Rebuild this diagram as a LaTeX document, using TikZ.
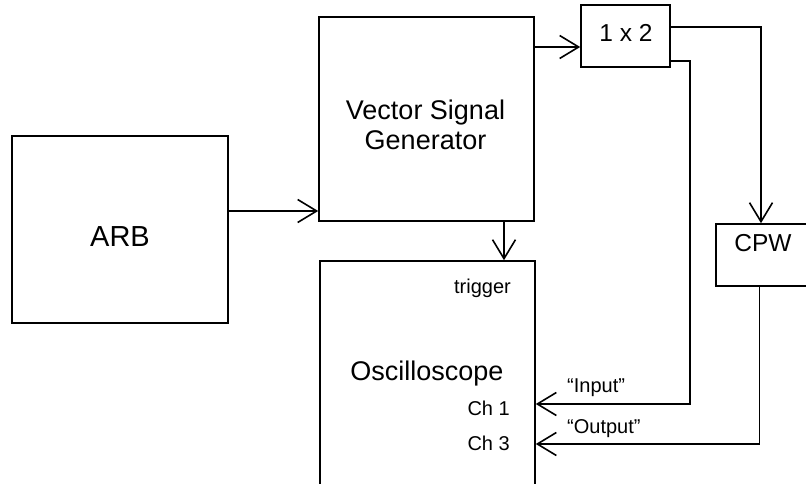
\documentclass[tikz,border=0pt]{standalone}
\usepackage{fontspec}
\setmainfont{Liberation Sans}
\usetikzlibrary{arrows.meta}
\begin{document}
\begin{tikzpicture}[x=1pt,y=-1pt,
  box/.style={draw=black,line width=1.6pt,inner sep=0pt,fill=none},
  txt/.style={inner sep=0pt,anchor=base},
  big/.style={font=\fontsize{27}{30}\selectfont},
  mid/.style={font=\fontsize{24.5}{28}\selectfont},
  small/.style={font=\fontsize{20}{23}\selectfont},
  arr/.style={line width=1.6pt,-{Straight Barb[length=19pt,width=23pt]}}]
\useasboundingbox (0,0) rectangle (806,484);
% boxes
\node[box,minimum width=216pt,minimum height=187pt] (arb) at (120,229.5) {};
\node[box,minimum width=215pt,minimum height=204pt] (vsg) at (426.5,119) {};
\node[box,minimum width=215pt,minimum height=232pt] (osc) at (427.5,377) {};
\node[box,minimum width=89pt,minimum height=62pt] (spl) at (625.5,36) {};
\node[box,minimum width=94pt,minimum height=62pt] (cpw) at (763,255) {};
% texts
\node[txt,font=\fontsize{29}{32}\selectfont] (tarb) at (120,246.5) {ARB};
\node[txt,big] (tvsg1) at (425.5,120) {Vector Signal};
\node[txt,big] (tvsg2) at (425.5,149.3) {Generator};
\node[txt,big] (tosc) at (427,380) {Oscilloscope};
\node[txt,mid] (tspl) at (626,41.7) {1 x 2};
\node[txt,mid] (tcpw) at (763,251) {CPW};
\node[txt,small,anchor=base east] (ttrig) at (511,293) {trigger};
\node[txt,small,anchor=base east] (tch1) at (510,415) {Ch 1};
\node[txt,small,anchor=base east] (tch3) at (510,450) {Ch 3};
\node[txt,small,anchor=base west] (tin) at (567,392.5) {“Input”};
\node[txt,small,anchor=base west] (tout) at (567,433.5) {“Output”};
% connector points
\coordinate (a1) at ([yshift=18.5pt]arb.east);
\coordinate (s1) at ([yshift=-11pt]spl.west);
\coordinate (s2) at ([yshift=9pt]spl.east);
\coordinate (s3) at ([yshift=-25pt]spl.east);
\coordinate (v1) at ([xshift=77.5pt]vsg.south);
\coordinate (c1) at ([yshift=-27pt]osc.east);
\coordinate (c3) at ([yshift=-67pt]osc.east);
\coordinate (w1) at ([xshift=-2pt]cpw.north);
\coordinate (w2) at ([xshift=-3.5pt]cpw.south);
% connectors
\draw[arr] (a1) -- (a1 -| vsg.west);
\draw[arr] (s1 -| vsg.east) -- (s1);
\draw[arr] (v1) -- (v1 |- osc.north);
\draw[arr] (s2) -| (w1);
\draw[arr] (s3) -- ++(19,0) |- (c1);
\draw[arr] (w2) |- (c3);
\end{tikzpicture}
\end{document}
